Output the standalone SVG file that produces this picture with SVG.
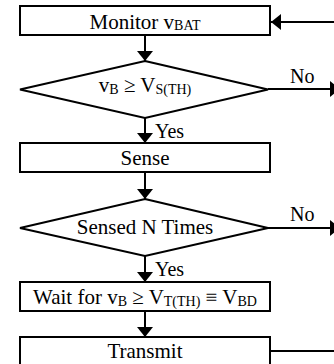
<svg xmlns="http://www.w3.org/2000/svg" width="334" height="364" viewBox="0 0 334 364">
<style>
.box{fill:#fff;stroke:#000;stroke-width:2}
.ln{fill:none;stroke:#000;stroke-width:2}
.t{font-family:"Liberation Serif","Times New Roman","DejaVu Serif",serif;font-size:21px;fill:#000;text-anchor:middle}
.l{font-family:"Liberation Serif","Times New Roman","DejaVu Serif",serif;font-size:20px;fill:#000}
.s{font-size:14px}
</style>
<defs>
<marker id="ah" viewBox="0 0 10 16" refX="10" refY="8" markerWidth="10" markerHeight="16" markerUnits="userSpaceOnUse" orient="auto">
<path d="M0,0 L10,8 L0,16 z" fill="#000"/>
</marker>
</defs>
<rect width="334" height="364" fill="#fff"/>
<g id="connectors">
<line class="ln" x1="145" y1="35" x2="145" y2="61" marker-end="url(#ah)"/>
<line class="ln" x1="145" y1="118" x2="145" y2="143" marker-end="url(#ah)"/>
<line class="ln" x1="145" y1="172" x2="145" y2="199" marker-end="url(#ah)"/>
<line class="ln" x1="145" y1="256" x2="145" y2="282" marker-end="url(#ah)"/>
<line class="ln" x1="145" y1="311" x2="145" y2="337" marker-end="url(#ah)"/>
<line class="ln" x1="336" y1="22" x2="271" y2="22" marker-end="url(#ah)"/>
<line class="ln" x1="268" y1="89" x2="340" y2="89" marker-end="url(#ah)"/>
<line class="ln" x1="268" y1="228" x2="340" y2="228" marker-end="url(#ah)"/>
<line class="ln" x1="271" y1="351" x2="336" y2="351"/>
<text class="l" x="290" y="83">No</text>
<text class="l" x="290" y="221">No</text>
<text class="l" x="155" y="138">Yes</text>
<text class="l" x="155" y="276">Yes</text>
</g>
<g id="monitor">
<rect class="box" x="20" y="6" width="250" height="29"/>
<text class="t" x="145" y="29">Monitor v<tspan class="s" dy="1">BAT</tspan></text>
</g>
<g id="decision1">
<polygon class="box" points="145,61 268,89.5 145,118 20,89.5"/>
<text class="t" x="145" y="92">v<tspan class="s" dy="2">B</tspan><tspan dy="-2"> ≥ V</tspan><tspan class="s" dy="2">S(TH)</tspan></text>
</g>
<g id="sense">
<rect class="box" x="20" y="143" width="250" height="29"/>
<text class="t" x="145" y="165">Sense</text>
</g>
<g id="decision2">
<polygon class="box" points="145,199 268,228 145,256 20,228"/>
<text class="t" x="145" y="234">Sensed N Times</text>
</g>
<g id="wait">
<rect class="box" x="20" y="282" width="250" height="29"/>
<text class="t" x="145" y="304">Wait for v<tspan class="s" dy="2">B</tspan><tspan dy="-2"> ≥ V</tspan><tspan class="s" dy="2">T(TH)</tspan><tspan dy="-2"> ≡ V</tspan><tspan class="s" dy="2">BD</tspan></text>
</g>
<g id="transmit">
<rect class="box" x="20" y="337" width="250" height="40"/>
<text class="t" x="145" y="358">Transmit</text>
</g>
</svg>
